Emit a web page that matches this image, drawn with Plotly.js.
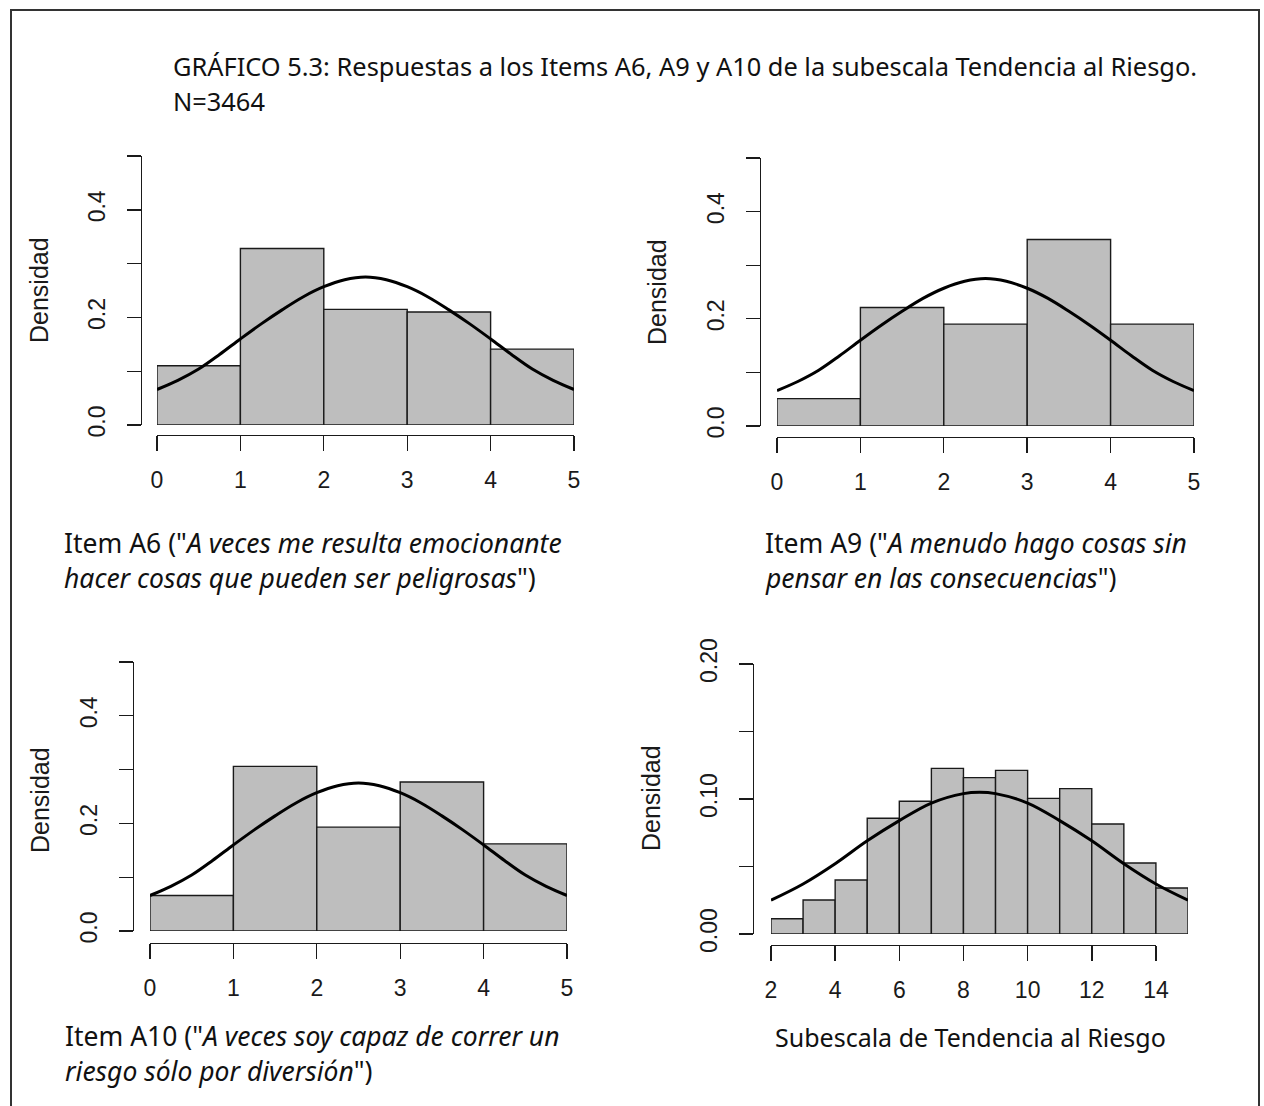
<!DOCTYPE html>
<html><head><meta charset="utf-8">
<script src="https://cdn.plot.ly/plotly-3.0.1.min.js"></script>
<style>html,body{margin:0;padding:0;background:#fff}</style>
</head><body><div id="chart" style="width:1264px;height:1106px"></div>
<script>
// ---------------- DATA ----------------
const titleLine1 = "GRÁFICO 5.3: Respuestas a los Items A6, A9 y A10 de la subescala Tendencia al Riesgo.";
const titleLine2 = "N=3464";
const yLabel = "Densidad";

const itemBinEdges = [0, 1, 2, 3, 4, 5];
const itemA6Density = [0.110, 0.328, 0.215, 0.210, 0.141];
const itemA9Density = [0.051, 0.221, 0.190, 0.348, 0.190];
const itemA10Density = [0.066, 0.306, 0.193, 0.277, 0.162];

const itemCurveX = [0, 0.25, 0.5, 0.75, 1, 1.25, 1.5, 1.75, 2, 2.25, 2.5, 2.75, 3, 3.25, 3.5, 3.75, 4, 4.25, 4.5, 4.75, 5];
const itemCurveY = [0.066, 0.083, 0.104, 0.131, 0.160, 0.188, 0.214, 0.238, 0.257, 0.270, 0.275, 0.270, 0.257, 0.238, 0.214, 0.188, 0.160, 0.131, 0.104, 0.083, 0.066];

const itemXTickVals = [0, 1, 2, 3, 4, 5];
const itemYTickVals = [0, 0.1, 0.2, 0.3, 0.4, 0.5];
const itemYTickText = ["0.0", "", "0.2", "", "0.4", ""];

const scaleBinEdges = [2, 3, 4, 5, 6, 7, 8, 9, 10, 11, 12, 13, 14, 15];
const scaleDensity = [0.0113, 0.0252, 0.0400, 0.0857, 0.0983, 0.1227, 0.1158, 0.1212, 0.1005, 0.1077, 0.0815, 0.0526, 0.0341];
const scaleCurveX = [2, 3, 4, 5, 6, 7, 8, 8.5, 9, 10, 11, 12, 13, 14, 15];
const scaleCurveY = [0.025, 0.037, 0.052, 0.069, 0.084, 0.097, 0.104, 0.105, 0.104, 0.097, 0.084, 0.069, 0.052, 0.037, 0.025];
const scaleXTickVals = [2, 4, 6, 8, 10, 12, 14];
const scaleYTickVals = [0, 0.05, 0.10, 0.15, 0.20];
const scaleYTickText = ["0.00", "", "0.10", "", "0.20"];

const captionA6 = ['Item A6 ("<i>A veces me resulta emocionante</i>', '<i>hacer cosas que pueden ser peligrosas</i>")'];
const captionA9 = ['Item A9 ("<i>A menudo hago cosas sin</i>', '<i>pensar en las consecuencias</i>")'];
const captionA10 = ['Item A10 ("<i>A veces soy capaz de correr un</i>', '<i>riesgo sólo por diversión</i>")'];
const captionScale = "Subescala de Tendencia al Riesgo";

// ---------------- LAYOUT HELPERS ----------------
const W = 1264, H = 1106;
const fx = p => p / W;
const fy = p => 1 - p / H;
const tickFont = {family: "Liberation Sans, Arial, sans-serif", size: 23, color: "#1a1a1a"};
const titleFont = {family: "Noto Sans, sans-serif", size: 25.4, color: "#111"};
const captionFont = {family: "Noto Sans, sans-serif", size: 26.5, color: "#111"};
const scaleCaptionFont = {family: "Noto Sans, sans-serif", size: 25, color: "#111"};
const AX = "#1a1a1a";

const mids = e => e.slice(0, -1).map((v, i) => (v + e[i + 1]) / 2);
const widths = e => e.slice(0, -1).map((v, i) => e[i + 1] - v);

function barTrace(edges, dens, xa, ya) {
  return {type: "bar", x: mids(edges), y: dens, width: widths(edges), xaxis: xa, yaxis: ya,
    marker: {color: "#bebebe", line: {color: "#1a1a1a", width: 1.4}}, hoverinfo: "skip", showlegend: false};
}
function curveTrace(cx, cy, xa, ya) {
  return {type: "scatter", mode: "lines", x: cx, y: cy, xaxis: xa, yaxis: ya,
    line: {color: "#000", width: 3, shape: "spline", smoothing: 1}, hoverinfo: "skip", showlegend: false};
}

const traces = [
  barTrace(itemBinEdges, itemA6Density, "x", "y"), curveTrace(itemCurveX, itemCurveY, "x", "y"),
  barTrace(itemBinEdges, itemA9Density, "x2", "y2"), curveTrace(itemCurveX, itemCurveY, "x2", "y2"),
  barTrace(itemBinEdges, itemA10Density, "x3", "y3"), curveTrace(itemCurveX, itemCurveY, "x3", "y3"),
  barTrace(scaleBinEdges, scaleDensity, "x4", "y4"), curveTrace(scaleCurveX, scaleCurveY, "x4", "y4"),
  {type: "scatter", mode: "markers", x: [scaleXTickVals[0]], y: [0], xaxis: "x5", yaxis: "y4",
   marker: {opacity: 0}, hoverinfo: "skip", showlegend: false}
];

function xAxis(left, right, lineY, range, tickvals, show) {
  return {domain: [fx(left), fx(right)], range: range, anchor: "free", position: fy(lineY),
    showgrid: false, zeroline: false, fixedrange: true,
    showline: show, linecolor: AX, linewidth: 1.4,
    ticks: show ? "outside" : "", ticklen: 15, tickwidth: 1.4, tickcolor: AX,
    tickmode: "array", tickvals: tickvals, showticklabels: show, tickfont: tickFont, ticklabelstandoff: 9};
}
function yAxis(bottom, top, lineX, range, tickvals, ticktext) {
  return {domain: [fy(bottom), fy(top)], range: range, anchor: "free", position: fx(lineX),
    showgrid: false, zeroline: false, fixedrange: true,
    showline: true, linecolor: AX, linewidth: 1.4,
    ticks: "outside", ticklen: 14, tickwidth: 1.4, tickcolor: AX,
    tickmode: "array", tickvals: tickvals, ticktext: ticktext, tickangle: -90,
    tickfont: tickFont, ticklabelstandoff: 13};
}

const layout = {
  width: W, height: H, margin: {l: 0, r: 0, t: 0, b: 0},
  paper_bgcolor: "#fff", plot_bgcolor: "rgba(0,0,0,0)", bargap: 0, showlegend: false,
  xaxis: xAxis(157, 574, 435, [0, 5], itemXTickVals, true),
  yaxis: yAxis(425, 156, 141, [0, 0.5], itemYTickVals, itemYTickText),
  xaxis2: xAxis(777, 1194, 437, [0, 5], itemXTickVals, true),
  yaxis2: yAxis(426, 158, 760, [0, 0.5], itemYTickVals, itemYTickText),
  xaxis3: xAxis(150, 567, 943, [0, 5], itemXTickVals, true),
  yaxis3: yAxis(931, 662, 133, [0, 0.5], itemYTickVals, itemYTickText),
  xaxis4: xAxis(771, 1188, 945, [2, 15], scaleXTickVals, false),
  yaxis4: yAxis(934, 664, 753, [0, 0.2], scaleYTickVals, scaleYTickText),
  xaxis5: xAxis(771, 1156, 945, [2, 14], scaleXTickVals, true),
  shapes: [
    {type: "rect", xref: "paper", yref: "paper", x0: fx(11), x1: fx(1259), y0: fy(1120), y1: fy(10),
     line: {color: "#333", width: 2}, fillcolor: "rgba(0,0,0,0)", layer: "below"}
  ],
  annotations: []
};

function ann(text, px, py, font, opts) {
  return Object.assign({text: text, xref: "paper", yref: "paper", x: fx(px), y: fy(py),
    xanchor: "left", yanchor: "middle", showarrow: false, font: font}, opts || {});
}
layout.annotations.push(ann(titleLine1, 171, 66, titleFont));
layout.annotations.push(ann(titleLine2, 171, 101, titleFont));
layout.annotations.push(ann(captionA6[0], 62, 543, captionFont), ann(captionA6[1], 62, 578, captionFont));
layout.annotations.push(ann(captionA9[0], 763, 543, captionFont), ann(captionA9[1], 763, 578, captionFont));
layout.annotations.push(ann(captionA10[0], 63, 1036, captionFont), ann(captionA10[1], 63, 1071, captionFont));
layout.annotations.push(ann(captionScale, 970, 1037, scaleCaptionFont, {xanchor: "center"}));
const densPos = [[39, 290], [657, 292], [40, 800], [651, 798]];
densPos.forEach(d => layout.annotations.push(ann(yLabel, d[0], d[1],
  {family: "Liberation Sans, Arial, sans-serif", size: 25, color: "#1a1a1a"},
  {xanchor: "center", yanchor: "middle", textangle: -90})));

Plotly.newPlot("chart", traces, layout, {staticPlot: true, displayModeBar: false});
</script></body></html>
